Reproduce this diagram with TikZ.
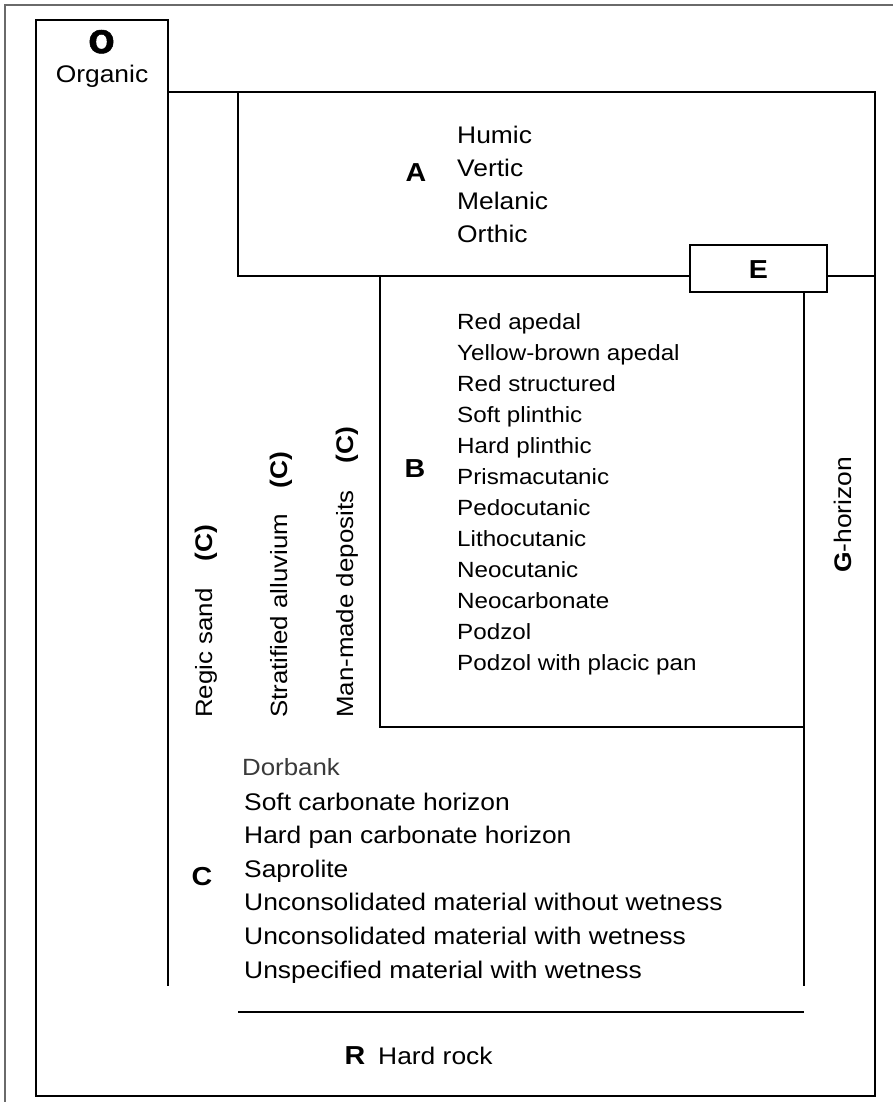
\documentclass[tikz,border=0pt]{standalone}
\usepackage{fontspec}
\setmainfont{Liberation Sans}[FakeStretch=1.1]
\newfontfamily\blackfont{DejaVu Sans Bold}[FakeBold=1.6]
\usepackage{tikz}
\definecolor{framegray}{HTML}{6A6A6A}
\definecolor{dorbgray}{HTML}{3A3A3A}

\begin{document}
\begin{tikzpicture}[x=1pt,y=-1pt,
    rule/.style={line width=2.6pt},
    letter/.style={font=\bfseries\fontsize{26}{26}\selectfont},
    item/.style={anchor=base west,inner sep=0pt,font=\fontsize{24}{24}\selectfont},
    vlabel/.style={anchor=base west,rotate=90,inner sep=0pt,font=\fontsize{23.5}{24}\selectfont},
    vmark/.style={anchor=base,rotate=90,inner sep=0pt,font=\bfseries\fontsize{24}{24}\selectfont}]
    \useasboundingbox (0,0) rectangle (893,1102);

    % outer frame
    \draw[framegray,line width=2.6pt] (5,1102) -- (5,5) -- (893,5);

    % horizon outline
    \draw[rule] (36,20) -- (168,20) -- (168,92) -- (875,92) -- (875,1096) -- (36,1096) -- cycle;
    \draw[rule] (168,92) -- (168,986);

    % A box
    \draw[rule] (238,92) -- (238,276) -- (690,276);
    \node[draw,rule,minimum width=137pt,minimum height=47pt,inner sep=0pt] (ebox) at (758.5,268.5) {};
    \node[letter,anchor=base] (eletter) at (ebox.center |- 0,278) {E};
    \draw[rule] (ebox.east |- 0,276) -- (875,276);

    % B box
    \draw[rule] (380,276) -- (380,727) -- (804,727);
    \draw[rule] (804,292) -- (804,986);

    % R line
    \draw[rule] (238,1012) -- (804,1012);

    % O
    \node[anchor=base,font=\blackfont\fontsize{31}{31}\selectfont] (oletter) at (101.5,53) {O};
    \node[anchor=base,font=\fontsize{24}{24}\selectfont] (organic) at (102,83) {Organic};

    % A
    \node[letter,anchor=base] (aletter) at (416,182) {A};
    \foreach \t [count=\i] in {Humic,Vertic,Melanic,Orthic}
        \node[item] (a\i) at (457,{144+32.7*(\i-1)}) {\t};

    % B
    \node[letter,anchor=base] (bletter) at (415,477) {B};
    \foreach \t [count=\i] in {Red apedal,Yellow-brown apedal,Red structured,Soft plinthic,
        Hard plinthic,Prismacutanic,Pedocutanic,Lithocutanic,Neocutanic,Neocarbonate,
        Podzol,Podzol with placic pan}
        \node[item,font=\fontsize{22}{22}\selectfont] (b\i) at (457,{329+31*(\i-1)}) {\t};

    % C columns
    \foreach \x/\y/\txt/\n in {212/543/Regic sand/reg,287/470/Stratified alluvium/str,353/445/Man-made deposits/man}{
        \node[vlabel] (\n) at (\x,718) {\txt};
        \node[vmark] (\n c) at (\x,\y) {(C)};
    }

    % C
    \node[letter,anchor=base] (cletter) at (202,885) {C};
    \node[item,text=dorbgray,font=\fontsize{23.5}{24}\selectfont] (dorbank) at (242,775) {Dorbank};
    \foreach \t [count=\i] in {Soft carbonate horizon,Hard pan carbonate horizon,Saprolite,
        Unconsolidated material without wetness,Unconsolidated material with wetness,
        Unspecified material with wetness}
        \node[item] (c\i) at (244,{810+33.6*(\i-1)}) {\t};

    % G
    \node[vmark,font=\fontsize{24}{24}\selectfont] (ghor) at (851,515) {\textbf{G}-horizon};

    % R
    \node[letter,anchor=base west] (rletter) at (341,1064) {R};
    \node[item] (hardrock) at (378,1064) {Hard rock};
\end{tikzpicture}
\end{document}
